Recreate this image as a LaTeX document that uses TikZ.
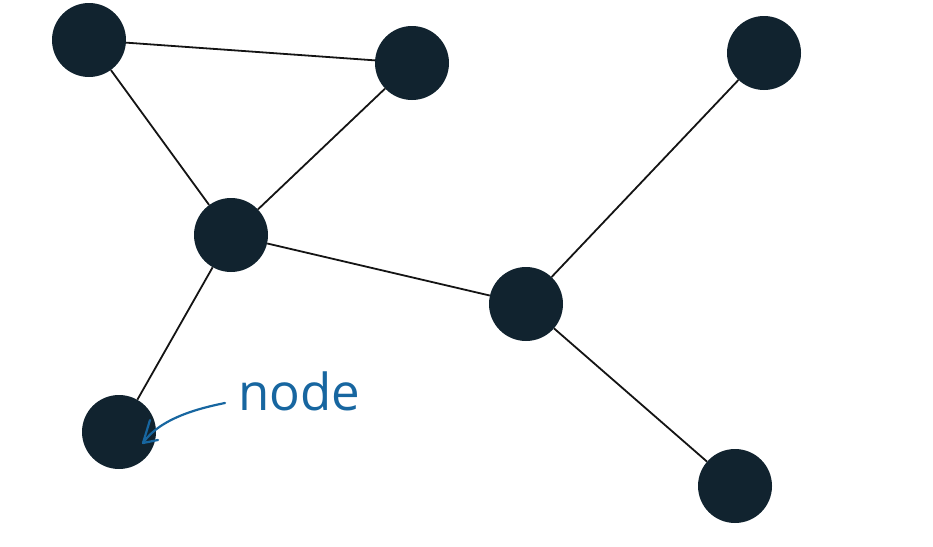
\documentclass[tikz,border=0pt]{standalone}
\usepackage{fontspec}
\setmainfont{Open Sans}
\definecolor{nodedark}{HTML}{11232F}
\definecolor{labelblue}{HTML}{1766A0}
\begin{document}
\begin{tikzpicture}[x=1pt,y=-1pt,
  dot/.style={circle,fill=nodedark,minimum size=74pt,inner sep=0pt},
  edge/.style={line width=1.8pt,draw=black!92},
  lbl/.style={text=labelblue,font=\fontsize{51}{57}\selectfont,inner sep=0pt,anchor=base west},
  pointer/.style={draw=labelblue,line width=2.2pt,line cap=round,line join=round}]
\useasboundingbox (0,0) rectangle (933,546);
\node[dot] (A) at (89,40) {};
\node[dot] (B) at (412,63) {};
\node[dot] (C) at (231,235) {};
\node[dot] (D) at (764,53) {};
\node[dot] (E) at (526,304) {};
\node[dot] (F) at (119,432) {};
\node[dot] (G) at (735,486) {};
\draw[edge] (A) -- (B);
\draw[edge] (A) -- (C);
\draw[edge] (B) -- (C);
\draw[edge] (C) -- (E);
\draw[edge] (C) -- (F);
\draw[edge] (D) -- (E);
\draw[edge] (E) -- (G);
\node[lbl] (L) at (238,410) {node};
\coordinate (ps) at (225,403);
\coordinate (pt) at (143,443);
\draw[pointer] (ps) .. controls (200,408) and (160,418) .. (pt);
\draw[pointer] (150,420) -- (pt) -- (158,440);
\end{tikzpicture}
\end{document}
